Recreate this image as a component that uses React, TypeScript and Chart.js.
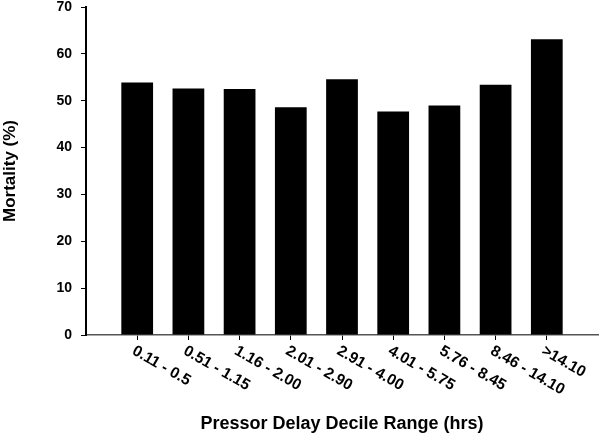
import React, { useEffect, useRef } from "react";
import { Chart, registerables } from "chart.js";

Chart.register(...registerables);

const categories = [
  "0.11 - 0.5",
  "0.51 - 1.15",
  "1.16 - 2.00",
  "2.01 - 2.90",
  "2.91 - 4.00",
  "4.01 - 5.75",
  "5.76 - 8.45",
  "8.46 - 14.10",
  ">14.10",
];
const mortality = [53.9, 52.6, 52.5, 48.6, 54.6, 47.7, 49.0, 53.4, 63.1];
const yTicks = [0, 10, 20, 30, 40, 50, 60, 70];
const xTitle = "Pressor Delay Decile Range (hrs)";
const yTitle = "Mortality (%)";

const FONT = "'Liberation Sans', Arial, sans-serif";

export default function App() {
  const ref = useRef<HTMLCanvasElement | null>(null);

  useEffect(() => {
    if (!ref.current) return;
    // pad with empty slots at both ends so bars sit one slot in from the axis
    const labels = ["", ...categories, ""];
    const data = [null, ...mortality, null];

    const rotatedLabels = {
      id: "rotatedLabels",
      afterDraw(chart: any) {
        const ctx = chart.ctx;
        const xs = chart.scales.x;
        ctx.save();
        ctx.fillStyle = "#000";
        ctx.font = `bold 15.5px ${FONT}`;
        ctx.textAlign = "left";
        ctx.textBaseline = "top";
        categories.forEach((lab, i) => {
          const px = xs.getPixelForValue(i + 1);
          ctx.save();
          ctx.translate(px, xs.top + 8);
          ctx.rotate((30 * Math.PI) / 180);
          ctx.fillText(lab, 0, 0);
          ctx.restore();
        });
        ctx.restore();
      },
    };

    const chart = new Chart(ref.current, {
      type: "bar",
      data: {
        labels,
        datasets: [
          {
            data,
            backgroundColor: "#000",
            borderWidth: 0,
            categoryPercentage: 1,
            barPercentage: 0.62,
          },
        ],
      },
      options: {
        responsive: false,
        animation: false,
        maintainAspectRatio: false,
        layout: { padding: { top: 7, left: 0, right: 2, bottom: 0 } },
        plugins: {
          legend: { display: false },
          tooltip: { enabled: false },
        },
        scales: {
          x: {
            offset: false,
            grid: {
              offset: false,
              drawOnChartArea: false,
              drawTicks: true,
              tickLength: 5,
              color: (c: any) =>
                c.index === 0 || c.index === labels.length - 1 ? "rgba(0,0,0,0)" : "#000",
            },
            border: { display: true, color: "#555", width: 1.5 },
            ticks: { display: false },
            title: {
              display: true,
              text: xTitle,
              color: "#000",
              font: { family: FONT, size: 18, weight: "bold" },
              padding: { top: 0, bottom: 1 },
            },
            afterFit: (s: any) => {
              s.height = 101;
              s.paddingLeft = 0;
              s.paddingRight = 0;
            },
          },
          y: {
            min: 0,
            max: 70,
            afterBuildTicks: (s: any) => {
              s.ticks = yTicks.map((v) => ({ value: v }));
            },
            grid: {
              drawOnChartArea: false,
              drawTicks: true,
              tickLength: 5,
              color: "#000",
            },
            border: { display: true, color: "#000", width: 2 },
            ticks: {
              color: "#000",
              padding: 9,
              font: { family: FONT, size: 14, weight: "bold" },
            },
            title: {
              display: true,
              text: yTitle,
              color: "#000",
              font: { family: FONT, size: 17, weight: "bold" },
              padding: 0,
            },
            afterFit: (s: any) => {
              s.width = 86;
              s.paddingTop = 0;
              s.paddingBottom = 0;
            },
          },
        },
      },
      plugins: [rotatedLabels],
    });
    return () => chart.destroy();
  }, []);

  return (
    <div style={{ position: "fixed", left: 0, top: 0, width: 600, height: 436, background: "#fff" }}>
      <canvas ref={ref} width={600} height={436} style={{ width: 600, height: 436, display: "block" }} />
    </div>
  );
}
